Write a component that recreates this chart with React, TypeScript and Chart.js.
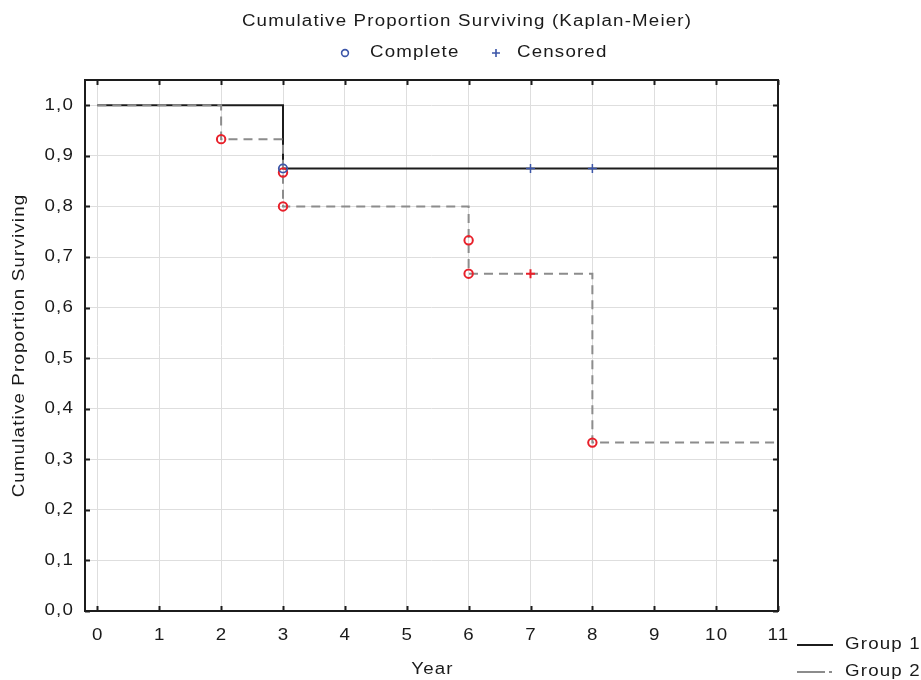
import React, { useEffect, useRef } from 'react';
import { Chart, registerables } from 'chart.js';

Chart.register(...registerables);

// ---------- data ----------
const TITLE = 'Cumulative Proportion Surviving (Kaplan-Meier)';
const X_TITLE = 'Year';
const Y_TITLE = 'Cumulative Proportion Surviving';
const LEGEND_MARKS = ['Complete', 'Censored'];
const GROUP_NAMES = ['Group 1', 'Group 2'];

const xTickValues = [0, 1, 2, 3, 4, 5, 6, 7, 8, 9, 10, 11];
const yTickValues = [0, 0.1, 0.2, 0.3, 0.4, 0.5, 0.6, 0.7, 0.8, 0.9, 1.0];

const group1Times = [0, 3, 11];
const group1Surv = [1.0, 0.875, 0.875];
const group2Times = [0, 2, 3, 6, 8, 11];
const group2Surv = [1.0, 0.933, 0.8, 0.667, 0.333, 0.333];

const g1CompleteX = [3];
const g1CompleteY = [0.875];
const g1CensoredX = [7, 8];
const g1CensoredY = [0.875, 0.875];
const g2CompleteX = [2, 3, 3, 6, 6, 8];
const g2CompleteY = [0.933, 0.867, 0.8, 0.733, 0.667, 0.333];
const g2CensoredX = [7];
const g2CensoredY = [0.667];

// ---------- styles ----------
const FONT_FAMILY = '"Liberation Sans", Arial, sans-serif';
const FONT_SIZE = 16;
const STRETCH = 1.17;
const LETTER_SPACING = '1px';
const TEXT_COLOR = '#1a1a1a';
const BLUE = '#3b55a8';
const RED = '#e8202a';
const G1_COLOR = '#1c1c1c';
const G2_COLOR = '#8c8c8c';

const toPts = (xs: number[], ys: number[]) => xs.map((x, i) => ({ x, y: ys[i] }));
const fmtY = (v: number) => v.toFixed(1).replace('.', ',');

function drawText(ctx: CanvasRenderingContext2D, s: string, x: number, y: number, align: CanvasTextAlign, rot = 0) {
  ctx.save();
  ctx.font = `${FONT_SIZE}px ${FONT_FAMILY}`;
  (ctx as any).letterSpacing = LETTER_SPACING;
  ctx.fillStyle = TEXT_COLOR;
  ctx.textAlign = align;
  ctx.textBaseline = 'middle';
  ctx.translate(x, y);
  ctx.rotate(rot);
  ctx.scale(STRETCH, 1);
  ctx.fillText(s, 0, 0);
  ctx.restore();
}

const decorPlugin = {
  id: 'decor',
  afterDraw(chart: any) {
    const ctx: CanvasRenderingContext2D = chart.ctx;
    const { left, right, top, bottom } = chart.chartArea;
    const xs = chart.scales.x;
    const ys = chart.scales.y;

    // frame
    ctx.save();
    ctx.strokeStyle = G1_COLOR;
    ctx.lineWidth = 2;
    ctx.strokeRect(left, top, right - left, bottom - top);
    // inward ticks
    const tl = 5;
    ctx.beginPath();
    xTickValues.forEach((v) => {
      const px = Math.round(xs.getPixelForValue(v)) + 0.5;
      ctx.moveTo(px, bottom);
      ctx.lineTo(px, bottom - tl);
      ctx.moveTo(px, top);
      ctx.lineTo(px, top + tl);
    });
    yTickValues.forEach((v) => {
      const py = Math.round(ys.getPixelForValue(v)) + 0.5;
      ctx.moveTo(left, py);
      ctx.lineTo(left + tl, py);
      ctx.moveTo(right, py);
      ctx.lineTo(right - tl, py);
    });
    ctx.stroke();
    ctx.restore();

    // tick labels (positions from the chart scales)
    xTickValues.forEach((v) => {
      drawText(ctx, String(v), xs.getPixelForValue(v) + 0.5, 636, 'center');
    });
    yTickValues.forEach((v) => {
      drawText(ctx, fmtY(v), 74, ys.getPixelForValue(v), 'right');
    });

    // titles
    drawText(ctx, TITLE, 467, 22, 'center');
    drawText(ctx, X_TITLE, (left + right) / 2 + 1, 670, 'center');
    drawText(ctx, Y_TITLE, 20, (top + bottom) / 2, 'center', -Math.PI / 2);

    // top legend
    ctx.save();
    ctx.lineWidth = 1.6;
    ctx.strokeStyle = BLUE;
    ctx.beginPath();
    ctx.arc(345, 53, 3.4, 0, Math.PI * 2);
    ctx.stroke();
    ctx.beginPath();
    ctx.moveTo(492, 53);
    ctx.lineTo(500, 53);
    ctx.moveTo(496, 49);
    ctx.lineTo(496, 57);
    ctx.stroke();
    ctx.restore();
    drawText(ctx, LEGEND_MARKS[0], 370, 53, 'left');
    drawText(ctx, LEGEND_MARKS[1], 517, 53, 'left');

    // group legend
    ctx.save();
    ctx.lineWidth = 2;
    ctx.strokeStyle = G1_COLOR;
    ctx.beginPath();
    ctx.moveTo(797, 645);
    ctx.lineTo(833, 645);
    ctx.stroke();
    ctx.strokeStyle = G2_COLOR;
    ctx.setLineDash([28, 4, 3, 60]);
    ctx.beginPath();
    ctx.moveTo(797, 672);
    ctx.lineTo(833, 672);
    ctx.stroke();
    ctx.restore();
    drawText(ctx, GROUP_NAMES[0], 845, 645, 'left');
    drawText(ctx, GROUP_NAMES[1], 845, 672, 'left');
  },
};

export default function App() {
  const ref = useRef<HTMLCanvasElement>(null);

  useEffect(() => {
    if (!ref.current) return;
    const chart = new Chart(ref.current, {
      type: 'line',
      data: {
        datasets: [
          {
            type: 'scatter',
            label: 'Group 1 complete',
            data: toPts(g1CompleteX, g1CompleteY),
            pointStyle: 'circle',
            pointRadius: 4.2,
            pointBorderWidth: 1.8,
            pointBorderColor: BLUE,
            pointBackgroundColor: 'rgba(0,0,0,0)',
            showLine: false,
            order: 0,
          },
          {
            type: 'scatter',
            label: 'Group 1 censored',
            data: toPts(g1CensoredX, g1CensoredY),
            pointStyle: 'cross',
            pointRadius: 4.5,
            pointBorderWidth: 1.5,
            pointBorderColor: BLUE,
            showLine: false,
            order: 0,
          },
          {
            type: 'scatter',
            label: 'Group 2 complete',
            data: toPts(g2CompleteX, g2CompleteY),
            pointStyle: 'circle',
            pointRadius: 4.2,
            pointBorderWidth: 2,
            pointBorderColor: RED,
            pointBackgroundColor: 'rgba(0,0,0,0)',
            showLine: false,
            order: 0,
          },
          {
            type: 'scatter',
            label: 'Group 2 censored',
            data: toPts(g2CensoredX, g2CensoredY),
            pointStyle: 'cross',
            pointRadius: 4.5,
            pointBorderWidth: 2,
            pointBorderColor: RED,
            showLine: false,
            order: 0,
          },
          {
            type: 'line',
            label: GROUP_NAMES[1],
            data: toPts(group2Times, group2Surv),
            stepped: 'before',
            borderColor: G2_COLOR,
            borderWidth: 2,
            borderDash: [9, 6],
            pointRadius: 0,
            fill: false,
            order: 1,
          },
          {
            type: 'line',
            label: GROUP_NAMES[0],
            data: toPts(group1Times, group1Surv),
            stepped: 'before',
            borderColor: G1_COLOR,
            borderWidth: 2,
            pointRadius: 0,
            fill: false,
            order: 2,
          },
        ] as any,
      },
      options: {
        responsive: false,
        animation: false,
        devicePixelRatio: 1,
        layout: { padding: { top: 80, right: 143, left: 0, bottom: 0 } },
        plugins: {
          legend: { display: false },
          tooltip: { enabled: false },
          title: { display: false },
        },
        scales: {
          x: {
            type: 'linear',
            min: -0.2,
            max: 11,
            afterBuildTicks: (s: any) => {
              s.ticks = xTickValues.map((v) => ({ value: v }));
            },
            afterFit: (s: any) => {
              s.height = 69;
            },
            ticks: { display: false, stepSize: 1 },
            grid: { color: '#dedede', lineWidth: 1, drawTicks: false },
            border: { display: false },
          },
          y: {
            type: 'linear',
            min: 0,
            max: 1.05,
            afterBuildTicks: (s: any) => {
              s.ticks = yTickValues.map((v) => ({ value: v }));
            },
            afterFit: (s: any) => {
              s.width = 85;
            },
            ticks: { display: false, stepSize: 0.1 },
            grid: { color: '#dedede', lineWidth: 1, drawTicks: false },
            border: { display: false },
          },
        },
      } as any,
      plugins: [decorPlugin],
    });
    return () => chart.destroy();
  }, []);

  return (
    <div style={{ position: 'absolute', left: 0, top: 0, width: 921, height: 680, background: '#fff' }}>
      <canvas ref={ref} width={921} height={680} style={{ display: 'block' }} />
    </div>
  );
}
